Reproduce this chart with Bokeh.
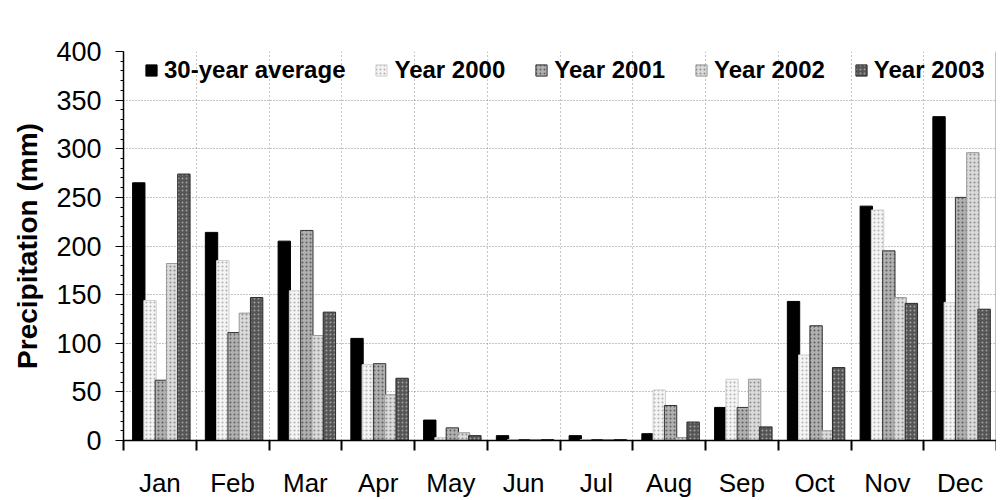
from bokeh.plotting import figure
from bokeh.models import (ColumnDataSource, Range1d, LinearAxis, CategoricalAxis,
                          FixedTicker, SingleIntervalTicker, Legend, Span,
                          CustomJSTickFormatter)
from bokeh.transform import dodge
from bokeh.embed import file_html
from bokeh.resources import INLINE

months = ["Jan", "Feb", "Mar", "Apr", "May", "Jun", "Jul", "Aug", "Sep", "Oct", "Nov", "Dec"]

# precipitation (mm)
avg30 = [265, 214, 205, 105, 21, 5, 5, 7, 34, 143, 241, 333]
y2000 = [144, 185, 154, 78, 3, 1, 1, 52, 63, 88, 237, 142]
y2001 = [62, 111, 216, 79, 13, 1, 1, 36, 34, 118, 195, 250]
y2002 = [182, 131, 108, 47, 8, 1, 1, 3, 63, 10, 147, 296]
y2003 = [274, 147, 132, 64, 5, 1, 1, 19, 14, 75, 141, 135]

source = ColumnDataSource(dict(month=months, avg30=avg30, y2000=y2000,
                               y2001=y2001, y2002=y2002, y2003=y2003))

FONT = "Liberation Sans"

p = figure(x_range=months, y_range=Range1d(0, 400),
           frame_width=873, frame_height=389,
           min_border_left=123, min_border_top=51, min_border_right=0, min_border_bottom=10,
           x_axis_location=None, y_axis_location="left",
           output_backend="svg", toolbar_location=None)
p.outline_line_color = None
p.background_fill_color = "white"
p.border_fill_color = "white"

# tick marks at month boundaries (synthetic coordinates 0..12 of the factor range)
edge_axis = LinearAxis(ticker=FixedTicker(ticks=list(range(13))),
                       formatter=CustomJSTickFormatter(code="return ''"))
edge_axis.major_label_standoff = 0
edge_axis.major_tick_in = 0
edge_axis.major_tick_out = 10
edge_axis.major_tick_line_width = 2
edge_axis.minor_tick_line_color = None
edge_axis.axis_line_width = 1.5
p.add_layout(edge_axis, "below")

month_axis = CategoricalAxis()
month_axis.major_tick_line_color = None
month_axis.axis_line_color = None
month_axis.major_label_standoff = 11
month_axis.major_label_text_font = FONT
month_axis.major_label_text_font_size = "26px"
month_axis.major_label_text_color = "black"
p.add_layout(month_axis, "below")

# y axis
p.yaxis.ticker = SingleIntervalTicker(interval=50, num_minor_ticks=5)
p.yaxis.axis_label = "Precipitation (mm)"
p.yaxis.axis_label_text_font = FONT
p.yaxis.axis_label_text_font_style = "bold"
p.yaxis.axis_label_text_font_size = "28px"
p.yaxis.axis_label_text_color = "black"
p.yaxis.axis_label_standoff = 10
p.yaxis.major_label_text_font = FONT
p.yaxis.major_label_text_font_size = "27px"
p.yaxis.major_label_text_color = "black"
p.yaxis.major_label_standoff = 14
p.yaxis.major_tick_in = 0
p.yaxis.major_tick_out = 8
p.yaxis.minor_tick_in = 0
p.yaxis.minor_tick_out = 3
p.yaxis.axis_line_width = 1.5

# right border of the plot area
p.add_layout(Span(location=len(months), dimension="height",
                  line_color="black", line_width=1.5))

# grids: dotted, horizontal every 50 and vertical at month boundaries
p.ygrid.ticker = SingleIntervalTicker(interval=50)
p.ygrid.grid_line_color = "#8a8a8a"
p.ygrid.grid_line_dash = "1 2"
p.xgrid.ticker = FixedTicker(ticks=list(range(1, 12)))
p.xgrid.grid_line_color = "#8a8a8a"
p.xgrid.grid_line_dash = "1 3"

w = 0.17
series = [
    ("avg30", "30-year average", -0.29, "black", None, "black"),
    ("y2000", "Year 2000", -0.135, "#f4f4f4", "#b0b0b0", "#d0d0d0"),
    ("y2001", "Year 2001", 0.02, "#b0b0b0", "#5e5e5e", "#333333"),
    ("y2002", "Year 2002", 0.175, "#dadada", "#8c8c8c", "#9a9a9a"),
    ("y2003", "Year 2003", 0.33, "#555555", "#a0a0a0", "#2a2a2a"),
]
items = []
for col, label, off, fill, hatch, line in series:
    kw = {}
    if hatch:
        kw = dict(hatch_pattern="dot", hatch_color=hatch, hatch_scale=4, hatch_weight=1)
    r = p.vbar(x=dodge("month", off, range=p.x_range), top=col, width=w, source=source,
               fill_color=fill, line_color=line, line_width=1, **kw)
    items.append((label, [r]))

legend = Legend(items=items, orientation="horizontal", location=(21, 356))
legend.label_text_font = FONT
legend.label_text_font_style = "bold"
legend.label_text_font_size = "24px"
legend.label_text_color = "black"
legend.label_height = 26
legend.glyph_height = 14
legend.glyph_width = 14
legend.label_standoff = 6
legend.spacing = 29
legend.padding = 5
legend.margin = 0
legend.border_line_color = None
legend.background_fill_alpha = 0
p.add_layout(legend, "center")

open("out.html", "w").write(file_html(p, INLINE))
